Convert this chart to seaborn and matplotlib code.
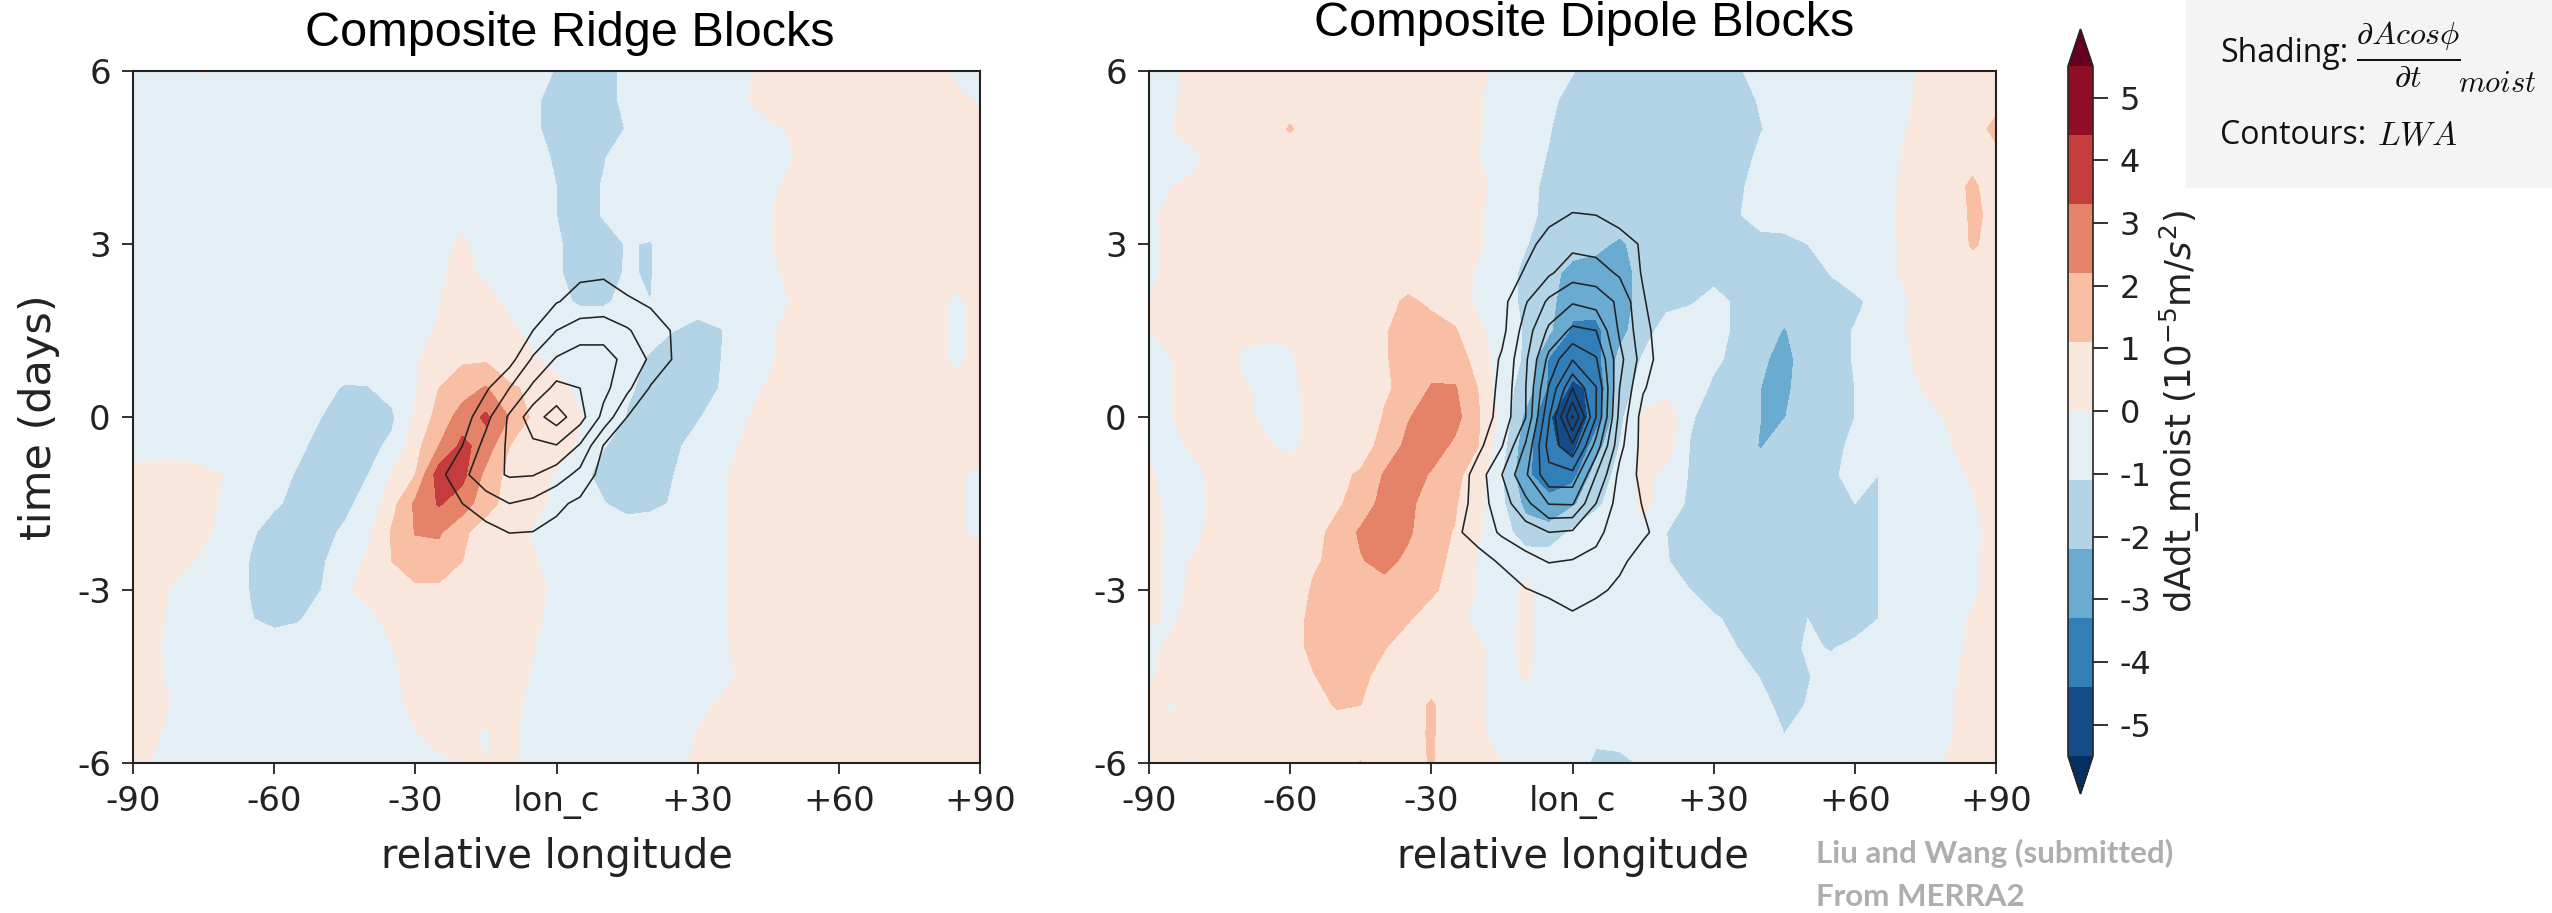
import numpy as np
import matplotlib
matplotlib.use("Agg")
import matplotlib.pyplot as plt
import seaborn as sns

W, H = 2552, 913
sns.set_theme(style="ticks", rc={"axes.grid": False})
plt.rcParams["font.family"] = ["DejaVu Sans"]
plt.rcParams["mathtext.fontset"] = "dejavusans"

LON = [-90,-85,-80,-75,-70,-65,-60,-55,-50,-45,-40,-35,-30,-25,-20,-15,-10,-5,0,5,10,15,20,25,30,35,40,45,50,55,60,65,70,75,80,85,90]
DAYS = [6,5.5,5,4.5,4,3.5,3,2.5,2,1.5,1,.5,0,-.5,-1,-1.5,-2,-2.5,-3,-3.5,-4,-4.5,-5,-5.5,-6]
LEVELS = [-5.5,-4.4,-3.3,-2.2,-1.1,0,1.1,2.2,3.3,4.4,5.5]
BAND_COLORS = ["#053061","#144c89","#327eb9","#6aabd1","#b2d4e6","#e3eef5","#f9e7dd","#f8bfa4","#e58368","#c43c3c","#8f0d25","#67001f"]
XTICKS = [-90,-60,-30,0,30,60,90]
XLABELS = ["-90","-60","-30","lon_c","+30","+60","+90"]
YTICKS = [-6,-3,0,3,6]
YLABELS = ["-6","-3","0","3","6"]
CB_TICKS = [-5,-4,-3,-2,-1,0,1,2,3,4,5]
CB_LABELS = ["-5","-4","-3","-2","-1","0","1","2","3","4","5"]

RIDGE_MOIST = [
[-.5,-.5,-.5,.1,-.5, -.5,-.5,-.5,-.5,-.5, -.5,-.5,-.5,-.5,-.5, -.5,-.5,-.8,-1.15,-1.5, -1.4,-.9,-.5,-.5,-.5, -.5,-.2,.4,.5,.5, .5,.5,.5,.5,.5,-.2,-.2],
[-.5,-.5,-.5,-.5,-.5, -.5,-.5,-.5,-.5,-.5, -.5,-.5,-.5,-.5,-.5, -.5,-.5,-.9,-1.5,-1.5, -1.25,-1.0,-.5,-.5,-.5, -.4,-.1,.5,.5,.5, .5,.5,.5,.5,.5,.2,-.1],
[-.5,-.5,-.5,-.5,-.5, -.5,-.5,-.5,-.5,-.5, -.5,-.5,-.5,-.5,-.5, -.5,-.5,-.9,-1.5,-1.5, -1.5,-1.05,-.5,-.5,-.5, -.5,-.4,-.2,.1,.5, .5,.5,.5,.5,.5,.5,.5],
[-.5,-.5,-.5,-.5,-.5, -.5,-.5,-.5,-.5,-.5, -.5,-.5,-.5,-.5,-.5, -.5,-.5,-.7,-1.25,-1.5, -1.15,-.7,-.5,-.5,-.5, -.5,-.5,-.3,-.05,.5, .5,.5,.5,.5,.5,.5,.5],
[-.5,-.5,-.5,-.5,-.5, -.5,-.5,-.5,-.5,-.5, -.5,-.5,-.5,-.5,-.5, -.5,-.5,-.6,-1.1,-1.4, -1.05,-.6,-.5,-.5,-.5, -.5,-.5,-.3,.3,.5, .5,.5,.5,.5,.5,.5,.5],
[-.5,-.5,-.5,-.5,-.5, -.5,-.5,-.5,-.5,-.5, -.5,-.5,-.5,-.5,-.3, -.5,-.5,-.6,-1.1,-1.4, -1.05,-.7,-.6,-.5,-.5, -.5,-.4,-.1,.5,.5, .5,.5,.5,.5,.5,.5,.5],
[-.5,-.5,-.5,-.5,-.5, -.5,-.5,-.5,-.5,-.5, -.5,-.5,-.5,-.3,.2, -.5,-.5,-.6,-1.0,-1.4, -1.4,-1.05,-1.15,-.5,-.5, -.5,-.4,-.1,.5,.5, .5,.5,.5,.5,.5,.5,.5],
[-.5,-.5,-.5,-.5,-.5, -.5,-.5,-.5,-.5,-.5, -.5,-.5,-.5,-.2,.4, -.3,-.5,-.6,-1.0,-1.4, -1.3,-1.05,-1.15,-.5,-.5, -.5,-.4,-.3,.3,.5, .5,.5,.5,.5,.5,.5,.5],
[-.5,-.5,-.5,-.5,-.5, -.5,-.5,-.5,-.5,-.5, -.5,-.5,-.5,-.05,.5, .5,-.3,-.6,-.9,-1.2, -1.2,-.9,-1.1,-.6,-.5, -.5,-.5,-.4,.05,.5, .5,.5,.5,.5,.5,-.3,.5],
[-.5,-.5,-.5,-.5,-.5, -.5,-.5,-.5,-.5,-.5, -.5,-.5,-.3,.1,.5, .5,.2,-.3,-.6,-.6, -.6,-.6,-.7,-1.1,-1.5, -1.15,-.5,-.2,.4,.5, .5,.5,.5,.5,.5,-.3,.5],
[-.5,-.5,-.5,-.5,-.5, -.5,-.5,-.5,-.5,-.5, -.5,-.5,-.1,.5,.95, .95,.5,.1,-.3,-.5, -.6,-.7,-1.25,-1.5,-1.5, -1.1,-.5,-.2,.5,.5, .5,.5,.5,.5,.5,-.3,.5],
[-.5,-.5,-.5,-.5,-.5, -.5,-.5,-.6,-.8,-1.2, -1.15,-.7,-.1,1.1,1.7, 2.3,1.25,.9,.3,-.3, -.5,-1.0,-1.3,-1.5,-1.5, -1.05,-.3,.1,.5,.5, .5,.5,.5,.5,.5,.5,.5],
[-.5,-.5,-.5,-.5,-.5, -.5,-.6,-.8,-1.1,-1.5, -1.5,-1.3,.2,1.5,2.7, 3.5,2.15,.9,.7,.1, -.5,-1.15,-1.5,-1.5,-1.2, -.6,-.1,.5,.5,.5, .5,.5,.5,.5,.5,.5,.5],
[-.5,-.5,-.5,-.5,-.5, -.5,-.6,-.9,-1.4,-1.5, -1.4,-.9,.7,2.2,3.6, 2.8,1.1,.8,.5,-.2, -1.05,-1.5,-1.5,-1.3,-.7, -.3,.1,.5,.5,.5, .5,.5,.5,.5,.5,.5,.5],
[.3,.5,.5,.2,-.05, -.5,-.7,-1.2,-1.5,-1.5, -1.1,.1,1.1,3.9,3.6, 1.9,.7,.4,-.1,-.8, -1.45,-1.5,-1.5,-1.1,-.5, -.2,.5,.5,.5,.5, .5,.5,.5,.5,.5,.1,-.2],
[.5,.5,.5,.5,-.4, -.5,-1.0,-1.3,-1.5,-1.35, -.7,.7,2.4,3.4,2.8, 1.5,.7,.4,-.3,-.6, -1.05,-1.5,-1.35,-1.0,-.5, -.2,.5,.5,.5,.5, .5,.5,.5,.5,.5,.1,-.2],
[.5,.5,.5,.2,-.4, -1.0,-1.4,-1.5,-1.4,-.95, -.2,1.2,2.25,2.35,1.3, .6,.3,-.1,-.5,-.5, -.5,-.5,-.5,-.5,-.5, -.2,.5,.5,.5,.5, .5,.5,.5,.5,.5,.1,-.2],
[.5,.5,.3,-.2,-.5, -1.15,-1.5,-1.5,-1.2,-.7, .2,1.1,1.7,1.7,1.1, .5,.4,.1,-.4,-.5, -.5,-.5,-.5,-.5,-.5, -.2,.5,.5,.5,.5, .5,.5,.5,.5,.5,.5,.5],
[.5,.3,-.3,-.5,-.5, -1.15,-1.5,-1.5,-1.1,-.2, .4,.7,.9,.9,.8, .7,.6,.5,-.4,-.5, -.5,-.5,-.5,-.5,-.5, -.2,.5,.5,.5,.5, .5,.5,.5,.5,.5,.5,.5],
[.5,.2,-.4,-.5,-.5, -1.05,-1.4,-1.2,-.7,-.5, -.3,.4,.6,.6,.6, .6,.5,.3,-.5,-.5, -.5,-.5,-.5,-.5,-.5, -.2,.5,.5,.5,.5, .5,.5,.5,.5,.5,.5,.5],
[.5,.1,-.5,-.5,-.5, -.5,-.5,-.5,-.5,-.5, -.5,-.05,.5,.5,.5, .5,.5,.05,-.5,-.5, -.5,-.5,-.5,-.5,-.5, -.3,.5,.5,.5,.5, .5,.5,.5,.5,.5,.5,.5],
[.5,.2,-.5,-.5,-.5, -.5,-.5,-.5,-.5,-.5, -.5,-.2,.4,.5,.5, .5,.5,-.1,-.5,-.5, -.5,-.5,-.5,-.5,-.5, -.4,.3,.5,.5,.5, .5,.5,.5,.5,.5,.5,.5],
[.5,.4,-.3,-.5,-.5, -.5,-.5,-.5,-.5,-.5, -.5,-.3,.3,.5,.5, .4,.3,-.3,-.5,-.5, -.5,-.5,-.5,-.5,-.3, .2,.5,.5,.5,.5, .5,.5,.5,.5,.5,.5,.5],
[.5,.1,-.5,-.5,-.5, -.5,-.5,-.5,-.5,-.5, -.5,-.5,-.1,.5,.2, -.1,.3,-.4,-.5,-.5, -.5,-.5,-.5,-.4,.05, .5,.5,.5,.5,.5, .5,.5,.5,.5,.5,.5,.5],
[.3,-.1,-.5,-.5,-.5, -.5,-.5,-.5,-.5,-.5, -.5,-.5,-.5,-.3,.1, .0,.3,-.5,-.5,-.5, -.5,-.5,-.5,-.3,.2, .5,.5,.5,.5,.5, .5,.5,.5,.5,.5,.5,.5],
]

DIPOLE_MOIST = [
[-.4,-.2,.5,.5,.5, .5,.5,.5,.5,.5, .5,.5,.3,.5,.3, -.4,-.6,-.8,-1.05,-1.5, -1.5,-1.5,-1.5,-1.5,-1.5, -1.2,-.8,-.6,-.6,-.6, -.6,-.6,-.3,.2,.5,.5,.5],
[-.4,-.2,.5,.4,.5, .5,.5,.5,.5,.5, .5,.5,.5,.4,.1, -.5,-.6,-.9,-1.4,-1.5, -1.5,-1.5,-1.5,-1.5,-1.5, -1.5,-1.0,-.6,-.6,-.6, -.6,-.6,-.3,.3,.5,.5,.7],
[-.3,.0,.3,.5,.5, .5,1.2,.5,.5,.5, .5,.5,.5,.4,.1, -.5,-.7,-1.05,-1.5,-1.5, -1.5,-1.5,-1.5,-1.5,-1.5, -1.5,-1.15,-.7,-.6,-.6, -.6,-.6,-.1,.4,.5,.6,1.4],
[-.3,.0,-.1,.5,.5, .5,.5,.5,.5,.5, .5,.5,.5,.4,.0, -.5,-.8,-1.15,-1.5,-1.5, -1.5,-1.5,-1.5,-1.5,-1.5, -1.5,-.9,-.6,-.6,-.6, -.6,-.6,.05,.5,.5,.7,.8],
[-.3,.0,.1,.5,.4, .5,.5,.5,.5,.5, .5,.5,.5,.4,.2, -.3,-.9,-1.25,-1.5,-1.5, -1.5,-1.5,-1.5,-1.5,-1.5, -1.3,-.7,-.6,-.6,-.6, -.6,-.6,.1,.5,.6,1.3,.5],
[-.2,.3,.5,.5,.4, .5,.5,.5,.5,.5, .5,.5,.5,.4,.1, -.4,-.9,-1.3,-1.5,-1.5, -1.5,-1.5,-1.5,-1.5,-1.5, -1.2,-.6,-.6,-.6,-.6, -.5,-.5,.2,.5,.5,1.25,.9],
[-.2,.2,.5,.5,.5, .5,.5,.5,.5,.5, .5,.5,.5,.4,.1, -.4,-1.05,-1.5,-1.8,-1.9, -2.4,-1.7,-1.5,-1.5,-1.5, -1.5,-1.5,-1.4,-1.1,-.7, -.6,-.5,.1,.5,.5,1.2,.8],
[-.2,.3,.5,.5,.5, .4,.5,.5,.5,.5, .5,.5,.5,.3,-.1, -.7,-1.3,-1.9,-2.5,-2.7, -2.7,-1.8,-1.5,-1.5,-1.4, -1.3,-1.5,-1.5,-1.5,-1.05, -.6,-.5,.1,.5,.5,.7,.5],
[.0,.5,.5,.5,.5, .3,.5,.5,.5,.5, .7,1.3,.9,.5,-.2, -.6,-1.35,-1.9,-2.9,-3.0, -2.8,-1.7,-1.35,-1.2,-.8, -1.25,-1.5,-1.5,-1.5,-1.5, -1.3,-.8,-.2,.5,.5,.5,.5],
[.0,.3,.5,.5,.3, .2,.1,.4,.5,.5, 1.0,1.5,1.5,1.2,.2, -.6,-1.2,-2.0,-3.5,-3.5, -2.6,-1.5,-.7,-.5,-.8, -1.25,-1.5,-2.3,-1.5,-1.4, -1.05,-.6,-.1,.5,.5,.5,.5],
[-.3,.0,.5,.5,-.2, -.3,-.1,.4,.5,.5, 1.0,1.5,1.7,1.5,.8, -.7,-1.2,-3.4,-3.9,-3.7, -1.9,-1.0,-.6,-.5,-.9, -1.4,-2.0,-2.6,-1.6,-1.4, -1.05,-.6,-.2,.3,.5,.5,.5],
[-.2,.0,.5,.4,.1, -.2,-.2,.3,.5,.6, 1.0,1.3,2.3,2.3,1.05, -.7,-1.5,-3.5,-4.6,-4.2, -1.6,-.7,-.5,-.5,-1.3, -1.5,-2.2,-2.5,-1.5,-1.4, -1.1,-.7,-.3,.1,.4,.5,.5],
[-.2,.0,.4,.2,.2, -.2,-.2,.2,.4,.6, 1.15,2.1,2.8,2.6,1.2, -.3,-2.5,-4.3,-5.3,-3.9, -1.4,.2,.9,-1.0,-1.5, -1.5,-2.2,-2.25,-1.5,-1.5, -1.1,-.9,-.4,-.3,.1,.5,.5],
[-.1,-.2,.2,.4,.5, .1,-.2,.3,.5,.7, 1.4,2.5,2.7,2.0,1.1, -.7,-2.9,-4.2,-4.8,-2.7, -1.1,.2,.5,-1.15,-1.5, -1.5,-2.3,-1.5,-1.5,-1.5, -.8,-.8,-.5,-.3,-.1,.5,.5],
[.1,-.3,-.2,.4,.5, .5,.4,.5,.9,1.2, 2.3,2.7,2.1,1.4,.5, -1.05,-3.1,-3.9,-3.7,-1.7, -.8,.3,-.3,-1.2,-1.5, -1.5,-1.6,-1.5,-1.5,-1.3, -.7,-1.1,-.5,-.4,-.2,.1,.5],
[.2,-.2,-.3,.4,.5, .5,.5,.7,1.0,1.4, 2.7,2.5,1.6,1.2,.3, -.9,-2.5,-3.0,-2.4,-1.3, -.6,.3,-.5,-1.3,-1.5, -1.5,-1.5,-1.5,-1.5,-1.3, -1.1,-1.1,-.5,-.4,-.3,-.1,.5],
[.3,-.2,-.2,.5,.5, .5,.6,.9,1.3,2.4, 2.9,2.4,1.4,1.05,.1, -.6,-1.7,-1.8,-.9,-.5, -.3,-.4,-1.1,-1.5,-1.5, -1.5,-1.5,-1.5,-1.5,-1.5, -1.5,-1.1,-.5,-.4,-.4,-.2,.3],
[.2,-.2,.1,.5,.5, .5,.7,1.0,1.3,2.1, 2.6,1.9,1.4,.9,-.1, -.5,-.5,-.5,-.5,-.5, -.4,-.5,-1.05,-1.5,-1.5, -1.5,-1.5,-1.5,-1.5,-1.5, -1.5,-1.1,-.5,-.4,-.4,-.2,.5],
[.2,-.2,.2,.5,.5, .5,.6,1.2,1.5,1.7, 1.7,1.7,1.3,.6,-.1, -.4,.2,-.4,-.5,-.5, -.5,-.5,-.7,-1.1,-1.5, -1.5,-1.5,-1.5,-1.5,-1.5, -1.5,-1.1,-.5,-.4,-.4,-.2,.5],
[.1,-.1,.3,.5,.5, .5,.6,1.4,1.6,1.6, 1.5,1.2,.6,.2,-.2, -.4,.2,-.4,-.5,-.5, -.5,-.5,-.5,-.6,-1.0, -1.3,-1.5,-1.5,-1.1,-1.5, -1.5,-1.1,-.5,-.4,-.3,.1,.5],
[-.2,.2,.5,.5,.5, .5,.6,1.4,1.7,1.6, 1.15,.6,.5,.3,.1, -.3,.2,-.4,-.5,-.5, -.5,-.5,-.5,-.5,-.6, -1.1,-1.3,-1.4,-1.0,-1.15, -.9,-.6,-.5,-.4,-.3,.2,.5],
[-.1,.3,.5,.5,.5, .5,.5,1.05,1.5,1.35, .7,.5,.5,.3,.1, -.3,.1,-.4,-.5,-.5, -.5,-.5,-.5,-.5,-.5, -.7,-1.15,-1.5,-1.15,-.8, -.6,-.5,-.5,-.4,-.2,.3,.5],
[.2,-.1,.5,.5,.5, .5,.5,.7,1.2,1.1, .5,.5,1.25,.3,.1, -.3,-.4,-.5,-.5,-.5, -.5,-.5,-.5,-.5,-.5, -.5,-.8,-1.4,-1.05,-.7, -.5,-.5,-.5,-.4,-.1,.4,.5],
[.3,.2,.5,.5,.5, .5,.5,.5,.5,.5, .5,.6,1.25,.3,.1, -.2,-.4,-.5,-.6,-.9, -.8,-.5,-.5,-.5,-.5, -.5,-.7,-1.1,-.7,-.5, -.5,-.5,-.5,-.4,-.1,.5,.5],
[.5,.3,-.1,.3,.5, .5,.5,.5,.5,1.15, .5,.6,1.2,.3,.1, .0,-.4,-.5,-.6,-1.3, -1.3,-1.0,-.5,-.5,-.5, -.5,-.6,-.7,-.6,-.5, -.5,-.5,-.5,-.4,.1,.5,.5],
]

RIDGE_LWA_LON = [-30,-25,-20,-15,-10,-5,0,5,10,15,20,25,30]
RIDGE_LWA_DAYS = [3,2.5,2,1.5,1,.5,0,-.5,-1,-1.5,-2,-2.5,-3]
RIDGE_LWA = [
[0,0,0,0,0,0,.1,.2,.2,.1,0,0,0],
[0,0,0,0,0,.1,.6,.85,.9,.5,.2,0,0],
[0,0,0,0,0,.5,.95,1.3,1.35,1.15,.85,.2,0],
[0,0,0,0,.3,1.0,2.0,2.5,2.6,2.1,1.5,.9,.2],
[0,0,0,0,.6,2.15,3.1,3.5,3.4,2.7,1.85,.9,.2],
[0,0,.2,.85,2.0,3.2,4.3,4.0,3.3,2.25,.9,.2,0],
[0,0,.5,1.7,3.15,4.6,5.45,4.4,2.7,1.0,.3,0,0],
[0,.2,1.0,2.35,3.15,3.8,3.95,2.9,.95,.2,0,0,0],
[0,.7,1.75,2.65,3.1,3.05,2.5,1.7,.6,0,0,0,0],
[0,.2,1.0,1.5,2.0,1.75,1.2,.8,.2,0,0,0,0],
[0,0,.2,.7,1.02,.98,.75,.3,0,0,0,0,0],
[0,0,0,.2,.3,.3,.2,0,0,0,0,0,0],
[0,0,0,0,0,0,0,0,0,0,0,0,0],
]
DIPOLE_LWA_LON = [-30,-25,-20,-15,-10,-5,0,5,10,15,20,25]
DIPOLE_LWA_DAYS = [4,3.5,3,2.5,2,1.5,1,.5,0,-.5,-1,-1.5,-2,-2.5,-3,-3.5,-4]
DIPOLE_LWA = [
[0,0,0,0,.1,.3,.5,.5,.3,.1,0,0],
[0,0,0,0,.3,.75,1.05,1.0,.7,.3,0,0],
[0,0,0,.1,.7,1.35,1.75,1.6,1.35,.9,.1,0],
[0,0,0,.4,1.1,1.85,2.55,2.45,1.85,.9,.1,0],
[0,0,0,.7,1.9,3.2,3.9,3.6,2.8,1.1,.2,0],
[0,0,.1,.7,2.45,4.2,5.2,5.0,2.85,1.4,.2,0],
[0,0,.1,1.15,2.8,5.3,6.95,6.1,3.3,1.55,.3,0],
[0,0,.2,1.3,2.95,6.1,9.0,7.05,3.0,1.1,.3,0],
[0,0,.3,1.43,2.95,6.9,11.1,7.0,2.7,.6,.1,0],
[0,.1,.75,1.95,4.1,7.4,8.8,5.6,2.3,.65,.1,0],
[0,.2,1.5,3.0,4.85,6.7,6.7,4.0,1.75,.7,.1,0],
[0,.3,1.55,2.55,3.7,5.05,5.1,3.0,1.6,.95,.2,0],
[0,.8,1.45,2.15,2.55,3.0,2.85,2.2,1.6,1.15,.6,.1],
[0,.1,.6,1.15,1.7,2.05,1.95,1.8,1.2,.6,.1,0],
[0,0,.1,.4,.95,1.2,1.4,1.2,.8,.2,0,0],
[0,0,0,.1,.3,.5,.85,.5,.2,0,0,0],
[0,0,0,0,0,0,0,0,0,0,0,0],
]
RIDGE_LEVELS = [1,2,3,4,5]
DIPOLE_LEVELS = [1,2,3,4,5,6,7,8,9,10,11]

TITLES = ["Composite Ridge Blocks", "Composite Dipole Blocks"]


def rect(x0, y0, x1, y1):
    return [x0 / W, 1 - y1 / H, (x1 - x0) / W, (y1 - y0) / H]


fig = plt.figure(figsize=(W / 100, H / 100), dpi=100, facecolor="white")

ax1 = fig.add_axes(rect(133, 71, 980, 763))
ax2 = fig.add_axes(rect(1149, 71, 1996, 763))
panels = [
    (ax1, RIDGE_MOIST, RIDGE_LWA_LON, RIDGE_LWA_DAYS, RIDGE_LWA, RIDGE_LEVELS),
    (ax2, DIPOLE_MOIST, DIPOLE_LWA_LON, DIPOLE_LWA_DAYS, DIPOLE_LWA, DIPOLE_LEVELS),
]
cf = None
for ax, moist, llon, lday, lwa, llev in panels:
    cf = ax.contourf(LON, DAYS, np.array(moist), levels=LEVELS, colors=BAND_COLORS, extend="both")
    ax.contour(llon, lday, np.array(lwa), levels=llev, colors="#222222", linewidths=1.15)
    ax.set_xlim(-90, 90)
    ax.set_ylim(-6, 6)
    ax.set_xticks(XTICKS, XLABELS)
    ax.set_yticks(YTICKS, YLABELS)
    ax.tick_params(length=8, width=1.3, labelsize=24.5, color="#222222", labelcolor="#222222", pad=8)
    for s in ax.spines.values():
        s.set_linewidth(1.5)
        s.set_color("#222222")
    ax.set_xlabel("relative longitude", fontsize=28.7, color="#222222", labelpad=13)

ax1.set_ylabel("time (days)", fontsize=31, color="#222222", labelpad=12)

cax = fig.add_axes(rect(2068, 29, 2093, 794))
cb = fig.colorbar(cf, cax=cax, ticks=CB_TICKS, extendfrac=(0.055, 0.054))
cb.set_ticklabels(CB_LABELS)
cb.ax.tick_params(length=11, width=1.3, labelsize=23, color="#222222", labelcolor="#222222", pad=8)
cb.outline.set_linewidth(1.2)
fig.text(2180 / W, 1 - 412 / H, r"dAdt_moist ($10^{-5}$m/$s^2$)", rotation=90, fontsize=25.5,
         ha="center", va="center", color="#222222")

fig.text(570 / W, 1 - 33 / H, TITLES[0], fontsize=35, family="Liberation Sans", ha="center", va="center", color="black")
fig.text(1584 / W, 1 - 24 / H, TITLES[1], fontsize=35, family="Liberation Sans", ha="center", va="center", color="black")

fig.patches.append(plt.Rectangle((2186 / W, 1 - 188 / H), 366 / W, 188 / H, transform=fig.transFigure,
                                 facecolor="#f4f4f4", edgecolor="none", zorder=0))
fig.text(2220 / W, 1 - 54 / H, "Shading:", fontsize=23, family="Open Sans", ha="left", va="center", color="#111111")
fig.text(2408 / W, 1 - 54 / H, r"$\frac{\partial A cos\phi}{\partial t}$", fontsize=33, math_fontfamily="cm",
         ha="center", va="center", color="#111111")
fig.text(2458 / W, 1 - 84 / H, r"$moist$", fontsize=22, math_fontfamily="cm", ha="left", va="center", color="#111111")
fig.text(2220 / W, 1 - 136 / H, r"Contours:", fontsize=23, family="Open Sans", ha="left", va="center", color="#111111")
fig.text(2377 / W, 1 - 136 / H, r"$LWA$", fontsize=24, math_fontfamily="cm", ha="left", va="center", color="#111111")

fig.text(1816 / W, 1 - 853 / H, "Liu and Wang (submitted)", fontsize=22.5, family="Lato", weight="bold",
         ha="left", va="center", color="#aeaeae")
fig.text(1816 / W, 1 - 897 / H, "From MERRA2", fontsize=22.5, family="Lato", weight="bold",
         ha="left", va="center", color="#aeaeae")

fig.savefig("out.png", dpi=100, facecolor="white")
